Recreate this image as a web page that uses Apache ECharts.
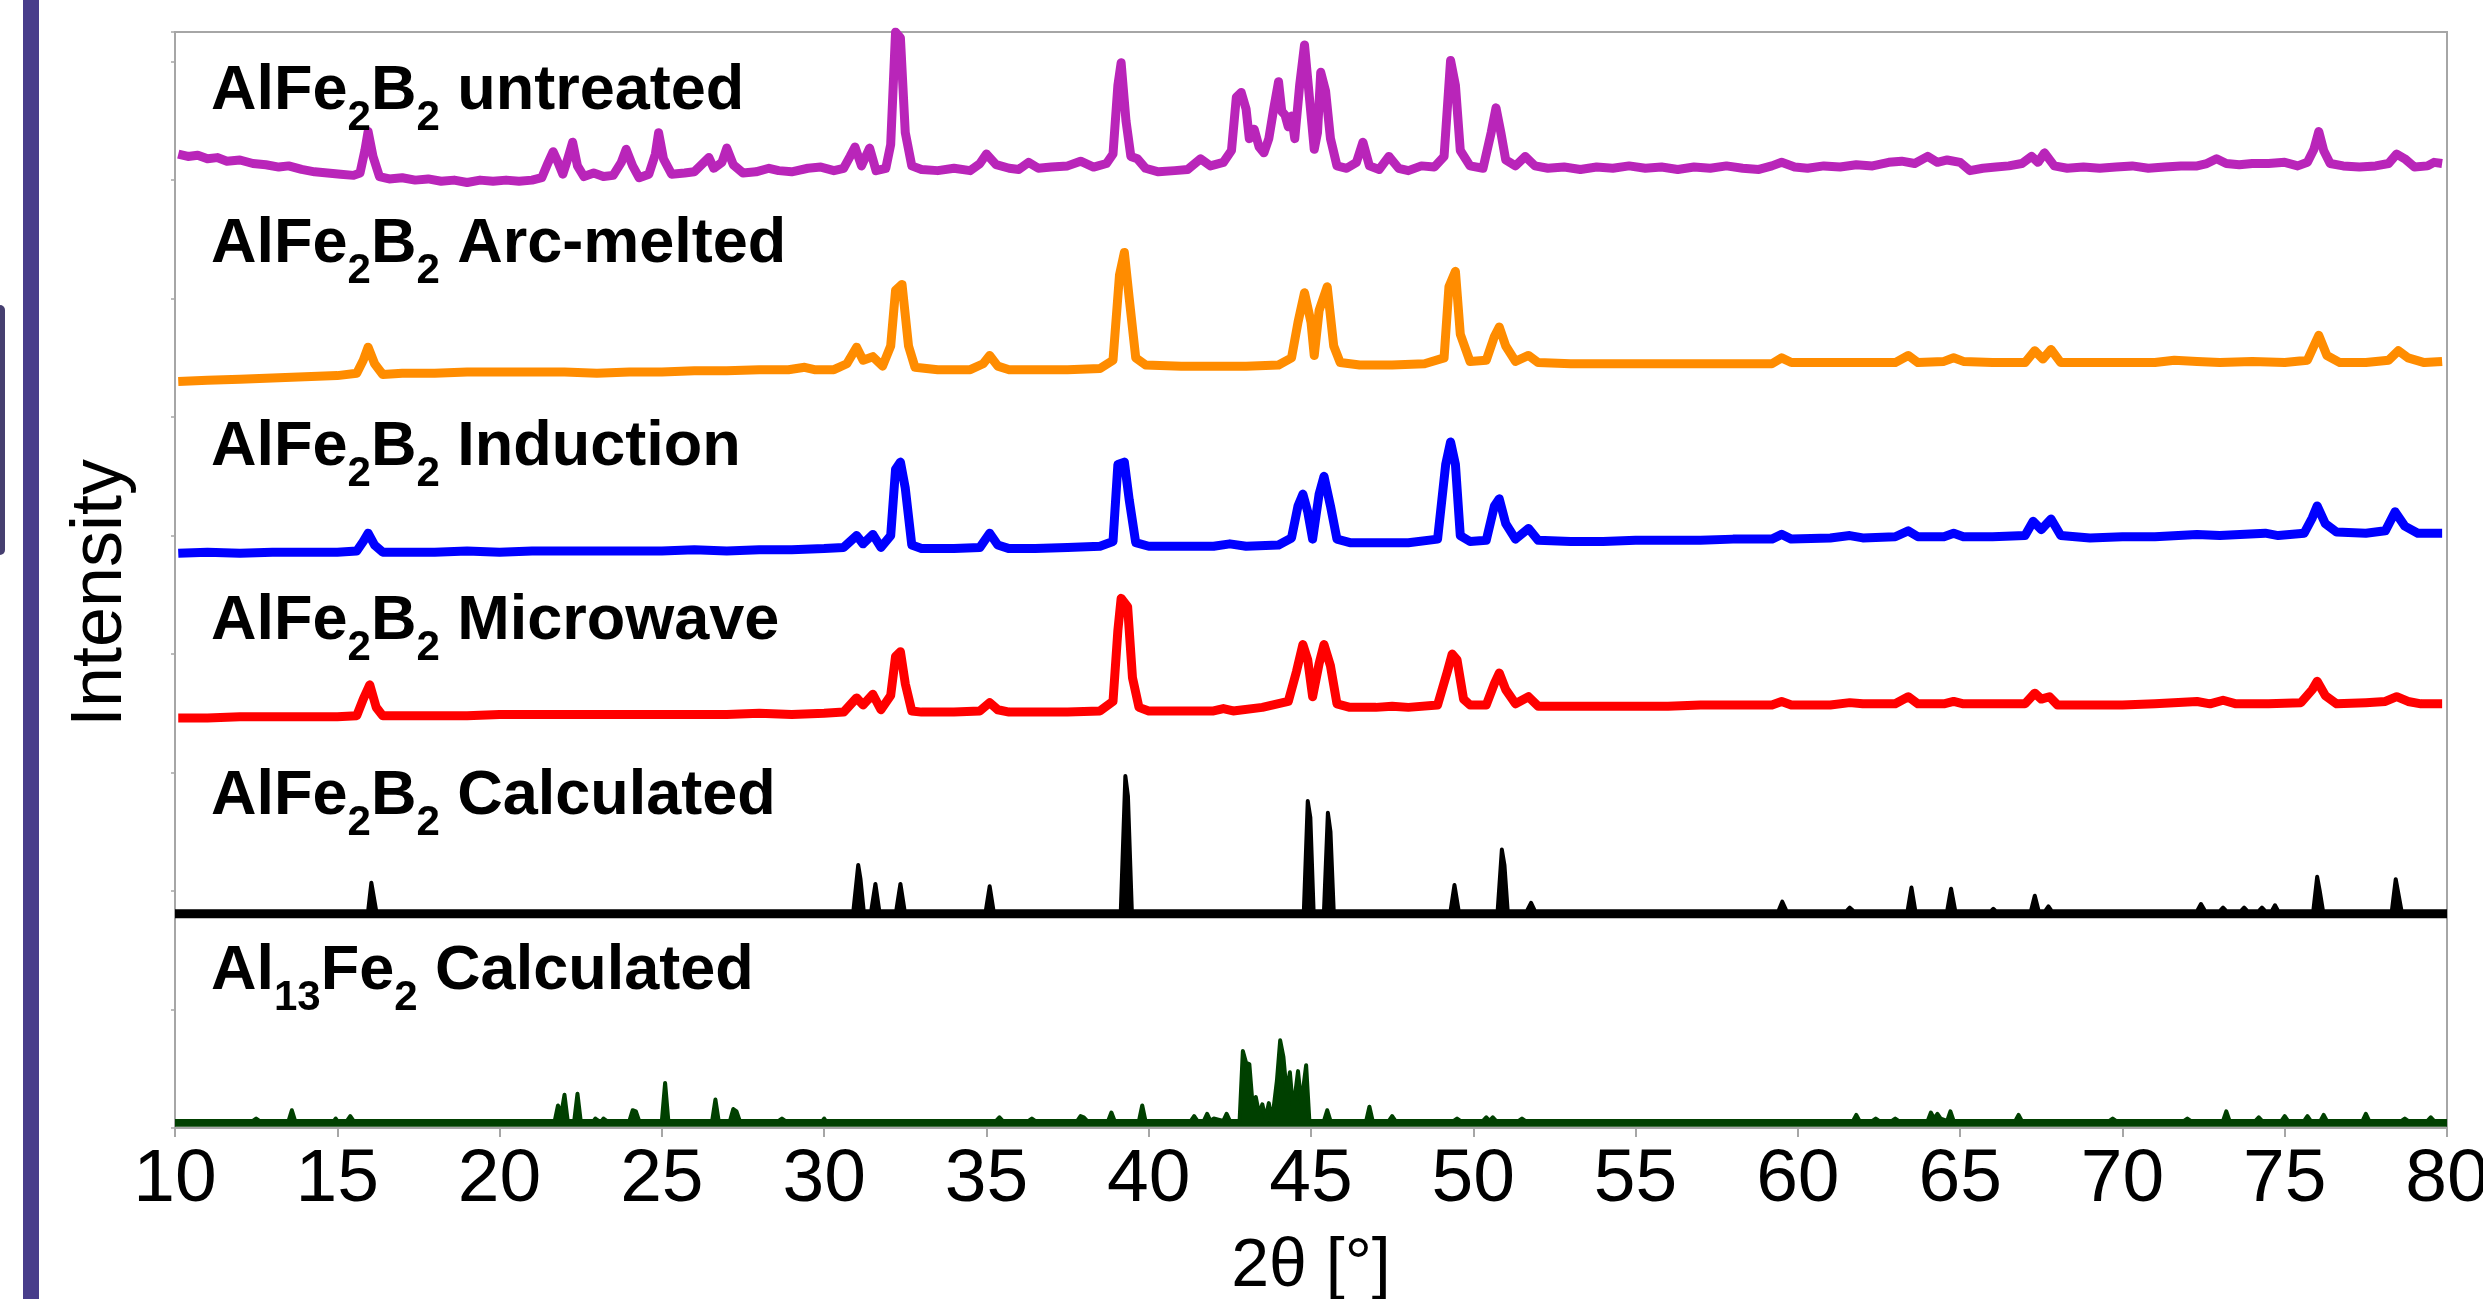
<!DOCTYPE html>
<html>
<head>
<meta charset="utf-8">
<script src="https://cdn.jsdelivr.net/npm/echarts@6/dist/echarts.min.js"></script>
<style>
  html, body { margin: 0; padding: 0; background: #fff; }
  #main { width: 2483px; height: 1299px; }
</style>
</head>
<body>
<div id="main"></div>
<script>
// x ticks (2θ, degrees)
var xTicks = [10, 15, 20, 25, 30, 35, 40, 45, 50, 55, 60, 65, 70, 75, 80];

// stacked (offset) patterns, [2θ, intensity a.u.]
var untreated = [
  [10.1, 822], [10.4, 820], [10.7, 821], [11.0, 818], [11.3, 819], [11.6, 816], [12.0, 817], [12.4, 814],
  [12.8, 813], [13.2, 811], [13.5, 812], [13.9, 809], [14.3, 807], [14.7, 806], [15.1, 805], [15.5, 804],
  [15.7, 806], [15.85, 825], [15.95, 841], [16.1, 820], [16.3, 803], [16.6, 801], [17.0, 802], [17.4, 800],
  [17.8, 801], [18.2, 799], [18.6, 800], [19.0, 798], [19.4, 800], [19.8, 799], [20.2, 800], [20.6, 799],
  [21.0, 800], [21.3, 802], [21.5, 815], [21.65, 824], [21.8, 815], [21.95, 805], [22.1, 818], [22.25, 832],
  [22.4, 812], [22.6, 803], [22.9, 806], [23.2, 803], [23.5, 804], [23.75, 815], [23.9, 826], [24.1, 812],
  [24.3, 802], [24.6, 805], [24.8, 822], [24.9, 840], [25.05, 818], [25.3, 805], [25.7, 806], [26.0, 807],
  [26.3, 815], [26.45, 819], [26.6, 810], [26.85, 815], [27.0, 827], [27.2, 813], [27.5, 806], [27.9, 807],
  [28.3, 810], [28.6, 808], [29.0, 807], [29.5, 810], [29.9, 811], [30.3, 808], [30.6, 810], [30.8, 820],
  [30.95, 828], [31.15, 812], [31.4, 827], [31.6, 808], [31.9, 810], [32.05, 830], [32.2, 925], [32.35, 920],
  [32.5, 840], [32.7, 812], [33.0, 809], [33.5, 808], [34.0, 810], [34.5, 808], [34.8, 814], [35.0, 822],
  [35.3, 813], [35.7, 810], [36.0, 809], [36.3, 815], [36.6, 810], [37.0, 811], [37.5, 812], [37.9, 816],
  [38.3, 811], [38.7, 814], [38.9, 822], [39.05, 880], [39.15, 899], [39.3, 850], [39.45, 820], [39.65, 818],
  [39.9, 810], [40.3, 807], [40.8, 808], [41.2, 809], [41.6, 818], [41.9, 812], [42.3, 815], [42.55, 825],
  [42.7, 870], [42.85, 874], [43.0, 860], [43.1, 835], [43.25, 843], [43.4, 828], [43.55, 823], [43.7, 835],
  [43.85, 860], [44.0, 883], [44.1, 858], [44.2, 855], [44.3, 845], [44.4, 854], [44.5, 835], [44.65, 880],
  [44.8, 914], [44.95, 870], [45.1, 826], [45.2, 840], [45.3, 891], [45.45, 875], [45.6, 835], [45.8, 812],
  [46.1, 810], [46.4, 815], [46.6, 832], [46.8, 812], [47.1, 809], [47.4, 820], [47.7, 810], [48.0, 808],
  [48.4, 812], [48.8, 811], [49.1, 820], [49.3, 901], [49.45, 880], [49.6, 825], [49.9, 812], [50.3, 810],
  [50.55, 840], [50.7, 861], [50.85, 840], [51.0, 817], [51.3, 812], [51.6, 820], [51.9, 812], [52.3, 810],
  [52.8, 811], [53.3, 809], [53.8, 811], [54.3, 810], [54.8, 812], [55.3, 810], [55.8, 811], [56.3, 809],
  [56.8, 811], [57.3, 810], [57.8, 812], [58.3, 810], [58.8, 809], [59.2, 812], [59.5, 815], [59.9, 811],
  [60.3, 810], [60.8, 812], [61.3, 811], [61.8, 813], [62.3, 812], [62.8, 815], [63.2, 816], [63.6, 814],
  [64.0, 820], [64.3, 815], [64.6, 817], [65.0, 815], [65.3, 808], [65.7, 810], [66.1, 811], [66.5, 812],
  [66.9, 814], [67.2, 820], [67.4, 815], [67.6, 823], [67.9, 812], [68.3, 810], [68.8, 811], [69.3, 810],
  [69.8, 811], [70.3, 812], [70.8, 810], [71.3, 811], [71.8, 812], [72.3, 812], [72.6, 814], [72.9, 818],
  [73.2, 814], [73.6, 813], [74.0, 814], [74.5, 814], [75.0, 815], [75.4, 812], [75.7, 815], [75.9, 826],
  [76.05, 841], [76.2, 825], [76.4, 814], [76.8, 812], [77.3, 811], [77.8, 812], [78.2, 814], [78.45, 822],
  [78.7, 818], [79.0, 811], [79.4, 812], [79.6, 815], [79.85, 814]
];

var arcMelted = [
  [10.1, 630], [11, 631], [12, 632], [13, 633], [14, 634], [15, 635], [15.6, 637], [15.8, 648], [15.95, 659],
  [16.15, 645], [16.4, 636], [17, 637], [18, 637], [19, 638], [20, 638], [21, 638], [22, 638], [23, 637],
  [24, 638], [25, 638], [26, 639], [27, 639], [28, 640], [28.9, 640], [29.4, 642], [29.7, 640], [30.3, 640],
  [30.7, 645], [31.0, 659], [31.2, 648], [31.5, 651], [31.8, 643], [32.05, 660], [32.2, 707], [32.4, 712],
  [32.6, 660], [32.8, 642], [33.5, 640], [34.5, 640], [34.9, 645], [35.1, 652], [35.35, 643], [35.7, 640],
  [36.5, 640], [37.5, 640], [38.5, 641], [38.9, 648], [39.1, 720], [39.25, 739], [39.4, 700], [39.6, 650],
  [39.9, 644], [41, 643], [42, 643], [43, 643], [44, 644], [44.4, 650], [44.6, 680], [44.8, 705], [45.0, 680],
  [45.1, 652], [45.25, 690], [45.5, 710], [45.7, 660], [45.9, 646], [46.5, 644], [47.5, 644], [48.5, 645],
  [49.1, 650], [49.25, 710], [49.45, 723], [49.6, 670], [49.9, 647], [50.4, 648], [50.65, 668], [50.8, 676],
  [51.0, 660], [51.3, 647], [51.7, 652], [52.0, 646], [53, 645], [54, 645], [55, 645], [56, 645], [57, 645],
  [58, 645], [59.2, 645], [59.5, 650], [59.8, 646], [61, 646], [62, 646], [63, 646], [63.4, 652], [63.7, 646],
  [64.5, 647], [64.8, 650], [65.1, 647], [66, 646], [67, 646], [67.3, 656], [67.55, 649], [67.8, 657],
  [68.1, 646], [69, 646], [70, 646], [71, 646], [71.6, 648], [72.3, 647], [73, 646], [74, 647], [75, 646],
  [75.7, 648], [75.9, 660], [76.05, 669], [76.3, 652], [76.7, 646], [77.5, 646], [78.2, 648], [78.5, 656],
  [78.8, 650], [79.3, 646], [79.85, 647]
];

var induction = [
  [10.1, 485], [11, 486], [12, 485], [13, 486], [14, 486], [15, 486], [15.6, 487], [15.8, 495], [15.95, 502],
  [16.15, 492], [16.4, 486], [17, 486], [18, 486], [19, 487], [20, 486], [21, 487], [22, 487], [23, 487],
  [24, 487], [25, 487], [26, 488], [27, 487], [28, 488], [29, 488], [30, 489], [30.6, 490], [31.0, 500],
  [31.2, 493], [31.5, 501], [31.75, 490], [32.05, 500], [32.2, 556], [32.35, 562], [32.5, 540], [32.7, 492],
  [33, 489], [34, 489], [34.8, 490], [35.1, 502], [35.35, 492], [35.7, 489], [36.5, 489], [37.5, 490],
  [38.5, 491], [38.9, 495], [39.05, 560], [39.25, 562], [39.4, 530], [39.6, 494], [40, 491], [41, 491],
  [42, 491], [42.5, 493], [43, 491], [44, 492], [44.4, 498], [44.6, 525], [44.75, 535], [44.9, 520],
  [45.05, 497], [45.25, 535], [45.4, 550], [45.6, 525], [45.8, 497], [46.2, 494], [47, 494], [48, 494],
  [48.9, 497], [49.15, 560], [49.3, 579], [49.45, 560], [49.6, 500], [49.9, 495], [50.4, 496], [50.65, 525],
  [50.8, 531], [51.0, 510], [51.3, 497], [51.7, 506], [52.0, 496], [53, 495], [54, 495], [55, 496], [56, 496],
  [57, 496], [58, 497], [59.2, 497], [59.5, 501], [59.8, 497], [61, 498], [61.6, 500], [62, 498], [63, 499],
  [63.4, 504], [63.7, 499], [64.5, 499], [64.8, 502], [65.1, 499], [66, 499], [67, 500], [67.25, 512],
  [67.5, 505], [67.8, 514], [68.1, 500], [69, 498], [70, 499], [71, 499], [72.3, 501], [73, 500], [74.4, 502],
  [74.8, 500], [75.6, 502], [75.85, 515], [76.0, 525], [76.25, 510], [76.6, 503], [77.5, 502], [78.1, 504],
  [78.4, 520], [78.7, 508], [79.1, 502], [79.85, 502]
];

var microwave = [
  [10.1, 346], [11, 346], [12, 347], [13, 347], [14, 347], [15, 347], [15.6, 348], [15.8, 362], [16.0, 374],
  [16.2, 355], [16.4, 348], [17, 348], [18, 348], [19, 348], [20, 349], [21, 349], [22, 349], [23, 349],
  [24, 349], [25, 349], [26, 349], [27, 349], [28, 350], [29, 349], [30, 350], [30.6, 351], [31.0, 363],
  [31.2, 357], [31.5, 366], [31.75, 353], [32.05, 365], [32.2, 398], [32.35, 402], [32.5, 375], [32.7, 352],
  [33, 351], [34, 351], [34.8, 352], [35.1, 359], [35.35, 353], [35.7, 351], [36.5, 351], [37.5, 351],
  [38.5, 352], [38.9, 360], [39.05, 420], [39.15, 447], [39.35, 440], [39.5, 380], [39.7, 355], [40, 352],
  [41, 352], [42, 352], [42.3, 354], [42.6, 352], [43.5, 355], [44.3, 360], [44.55, 385], [44.75, 408],
  [44.9, 395], [45.05, 364], [45.25, 392], [45.4, 408], [45.6, 390], [45.8, 358], [46.2, 355], [47, 355],
  [47.5, 356], [48, 355], [48.9, 357], [49.2, 385], [49.35, 400], [49.5, 395], [49.7, 362], [49.9, 357],
  [50.4, 357], [50.65, 375], [50.8, 384], [51.0, 370], [51.3, 358], [51.7, 364], [52.0, 356], [53, 356],
  [54, 356], [55, 356], [56, 356], [57, 357], [58, 357], [59.2, 357], [59.5, 360], [59.8, 357], [61, 357],
  [61.6, 359], [62, 358], [63, 358], [63.4, 364], [63.7, 358], [64.5, 358], [64.8, 360], [65.1, 358], [66, 358],
  [67, 358], [67.3, 367], [67.5, 362], [67.75, 364], [68, 357], [69, 357], [70, 357], [71, 358], [72.3, 360],
  [72.7, 358], [73.1, 361], [73.5, 358], [74.5, 358], [75.5, 359], [75.85, 370], [76.0, 377], [76.25, 365],
  [76.6, 358], [77.5, 359], [78.1, 360], [78.45, 364], [78.8, 360], [79.2, 358], [79.85, 358]
];

var calcAlFe2B2 = [
  [10, 183], [15.95, 183], [16.05, 207], [16.2, 183], [30.9, 183], [31.05, 222], [31.12, 210], [31.22, 183],
  [31.45, 183], [31.58, 206], [31.7, 183], [32.22, 183], [32.35, 206], [32.48, 183], [34.98, 183], [35.1, 204],
  [35.22, 183], [39.14, 183], [39.28, 297], [39.36, 280], [39.48, 183], [44.78, 183], [44.9, 276], [44.98, 262],
  [45.08, 183], [45.4, 183], [45.52, 266], [45.6, 250], [45.7, 183], [49.3, 183], [49.42, 205], [49.55, 183],
  [50.75, 183], [50.88, 235], [50.96, 222], [51.06, 183], [51.65, 183], [51.78, 190], [51.9, 183], [59.4, 183],
  [59.52, 191], [59.65, 183], [61.5, 183], [61.6, 186], [61.72, 183], [63.38, 183], [63.5, 203], [63.62, 183],
  [64.6, 183], [64.72, 202], [64.85, 183], [65.95, 183], [66.02, 185], [66.1, 183], [67.18, 183], [67.3, 196],
  [67.42, 183], [67.62, 183], [67.72, 187], [67.82, 183], [72.3, 183], [72.42, 189], [72.55, 183], [73.0, 183],
  [73.1, 186], [73.2, 183], [73.65, 183], [73.75, 186], [73.85, 183], [74.2, 183], [74.3, 186], [74.4, 183],
  [74.6, 183], [74.7, 188], [74.8, 183], [75.88, 183], [76.0, 212], [76.08, 200], [76.18, 183], [78.3, 183],
  [78.42, 210], [78.5, 198], [78.6, 183], [80, 183]
];

var calcAl13Fe2 = [
  [10, 6], [12.4, 6], [12.5, 8], [12.6, 6], [13.5, 6], [13.6, 15], [13.7, 6], [14.9, 6], [14.95, 8], [15.0, 6],
  [15.3, 6], [15.4, 10], [15.5, 6], [21.7, 6], [21.8, 19], [21.9, 12], [22.0, 28], [22.1, 6], [22.3, 6],
  [22.4, 29], [22.5, 6], [22.9, 6], [22.95, 8], [23.05, 6], [23.15, 6], [23.2, 8], [23.3, 6], [24.0, 6],
  [24.1, 15], [24.2, 14], [24.3, 6], [25.0, 6], [25.1, 38], [25.2, 6], [26.55, 6], [26.65, 24], [26.75, 6],
  [27.1, 6], [27.2, 16], [27.3, 14], [27.4, 6], [28.6, 6], [28.7, 8], [28.8, 6], [29.95, 6], [30.0, 8],
  [30.05, 6], [35.3, 6], [35.4, 9], [35.5, 6], [36.3, 6], [36.4, 8], [36.5, 6], [37.8, 6], [37.9, 10],
  [38.0, 9], [38.1, 6], [38.75, 6], [38.85, 13], [38.95, 6], [39.7, 6], [39.8, 19], [39.9, 6], [41.3, 6],
  [41.4, 10], [41.5, 6], [41.7, 6], [41.8, 12], [41.9, 6], [42.0, 8], [42.3, 6], [42.4, 12], [42.5, 6],
  [42.8, 6], [42.9, 65], [43.0, 55], [43.1, 54], [43.2, 20], [43.3, 26], [43.4, 12], [43.5, 20], [43.6, 8],
  [43.7, 21], [43.8, 6], [43.95, 40], [44.05, 74], [44.15, 60], [44.25, 30], [44.35, 47], [44.45, 15],
  [44.6, 48], [44.7, 20], [44.85, 53], [44.95, 6], [45.4, 6], [45.5, 15], [45.6, 6], [46.7, 6], [46.8, 18],
  [46.9, 6], [47.4, 6], [47.5, 10], [47.6, 6], [49.4, 6], [49.5, 8], [49.6, 6], [50.3, 6], [50.4, 9],
  [50.5, 6], [50.6, 9], [50.7, 6], [51.4, 6], [51.5, 8], [51.6, 6], [61.7, 6], [61.8, 11], [61.9, 6],
  [62.3, 6], [62.4, 8], [62.5, 6], [62.9, 6], [63.0, 8], [63.1, 6], [64.0, 6], [64.1, 13], [64.2, 8],
  [64.3, 12], [64.4, 8], [64.6, 6], [64.7, 14], [64.8, 6], [66.7, 6], [66.8, 11], [66.9, 6], [69.6, 6],
  [69.7, 8], [69.8, 6], [71.9, 6], [72.0, 8], [72.1, 6], [73.1, 6], [73.2, 14], [73.3, 6], [74.1, 6],
  [74.2, 9], [74.3, 6], [74.9, 6], [75.0, 10], [75.1, 6], [75.6, 6], [75.7, 10], [75.8, 6], [76.1, 6],
  [76.2, 11], [76.3, 6], [77.4, 6], [77.5, 12], [77.6, 6], [78.6, 6], [78.7, 8], [78.8, 6], [79.4, 6],
  [79.5, 9], [79.6, 6], [80, 6]
];

// pattern labels, subscripts as rich text
var labels = [
  '{m|AlFe}{s|2}{m|B}{s|2}{m| untreated}',
  '{m|AlFe}{s|2}{m|B}{s|2}{m| Arc-melted}',
  '{m|AlFe}{s|2}{m|B}{s|2}{m| Induction}',
  '{m|AlFe}{s|2}{m|B}{s|2}{m| Microwave}',
  '{m|AlFe}{s|2}{m|B}{s|2}{m| Calculated}',
  '{m|Al}{s|13}{m|Fe}{s|2}{m| Calculated}'
];
var labelTops = [60, 213, 416, 590, 765, 940];

var FONT = '"Liberation Sans", Arial, Helvetica, sans-serif';
var rich = {
  m: { fontFamily: FONT, fontWeight: 'bold', fontSize: 63, lineHeight: 70, verticalAlign: 'top', fill: '#000' },
  s: { fontFamily: FONT, fontWeight: 'bold', fontSize: 42, lineHeight: 42, verticalAlign: 'top', padding: [37, 0, 0, 0], fill: '#000' }
};

var myChart = echarts.init(document.getElementById('main'));

function lineSeries(data, color) {
  return {
    type: 'line', data: data, showSymbol: false, symbol: 'none', silent: true,
    lineStyle: { color: color, width: 9, join: 'round' }
  };
}
function areaSeries(data, color, origin) {
  return {
    type: 'line', data: data, showSymbol: false, symbol: 'none', silent: true,
    lineStyle: { color: color, width: 4, join: 'round' },
    areaStyle: { color: color, opacity: 1, origin: origin }
  };
}

var graphics = [
  { type: 'rect', shape: { x: 23, y: 0, width: 16, height: 1299 }, style: { fill: '#483d8b' } },
  { type: 'rect', shape: { x: -8, y: 305, width: 13, height: 250, r: 5 }, style: { fill: '#463f70' } }
];
labels.forEach(function (t, i) {
  graphics.push({
    type: 'text', x: 211, y: labelTops[i], z: 10,
    style: { text: t, rich: rich, align: 'left', verticalAlign: 'top', fill: '#000' }
  });
});

var option = {
  animation: false,
  backgroundColor: '#fff',
  grid: {
    left: 175, right: 36, top: 32, bottom: 171, containLabel: false, outerBoundsMode: 'none',
    show: true, borderColor: '#a6a6a6', borderWidth: 2
  },
  xAxis: {
    type: 'value', min: xTicks[0], max: xTicks[xTicks.length - 1], interval: xTicks[1] - xTicks[0],
    name: '2θ [°]', nameLocation: 'middle', nameGap: 105,
    nameTextStyle: { fontFamily: FONT, fontSize: 68, color: '#000' },
    axisLine: { lineStyle: { color: '#a6a6a6', width: 2 } },
    axisTick: { show: true, length: 9, lineStyle: { color: '#a6a6a6', width: 2 } },
    axisLabel: { fontFamily: FONT, fontSize: 75, color: '#000', margin: 15 },
    splitLine: { show: false }
  },
  yAxis: {
    type: 'value', min: 0, max: 925, interval: 100,
    name: 'Intensity', nameLocation: 'middle', nameGap: 38,
    nameTextStyle: { fontFamily: FONT, fontSize: 72, color: '#000', padding: [0, 26, 0, 0] },
    axisLine: { show: true, lineStyle: { color: '#a6a6a6', width: 2 } },
    axisTick: { show: true, length: 4, lineStyle: { color: '#a6a6a6', width: 1.5 } },
    axisLabel: { show: false },
    splitLine: { show: false }
  },
  graphic: graphics,
  series: [
    lineSeries(untreated, '#b925b9'),
    lineSeries(arcMelted, '#ff8c00'),
    lineSeries(induction, '#0000ff'),
    lineSeries(microwave, '#ff0000'),
    areaSeries(calcAlFe2B2, '#000000', 177),
    areaSeries(calcAl13Fe2, '#004000', 1)
  ]
};

myChart.setOption(option);
window.onresize = function () {
  myChart.resize();
};
</script>
</body>
</html>
